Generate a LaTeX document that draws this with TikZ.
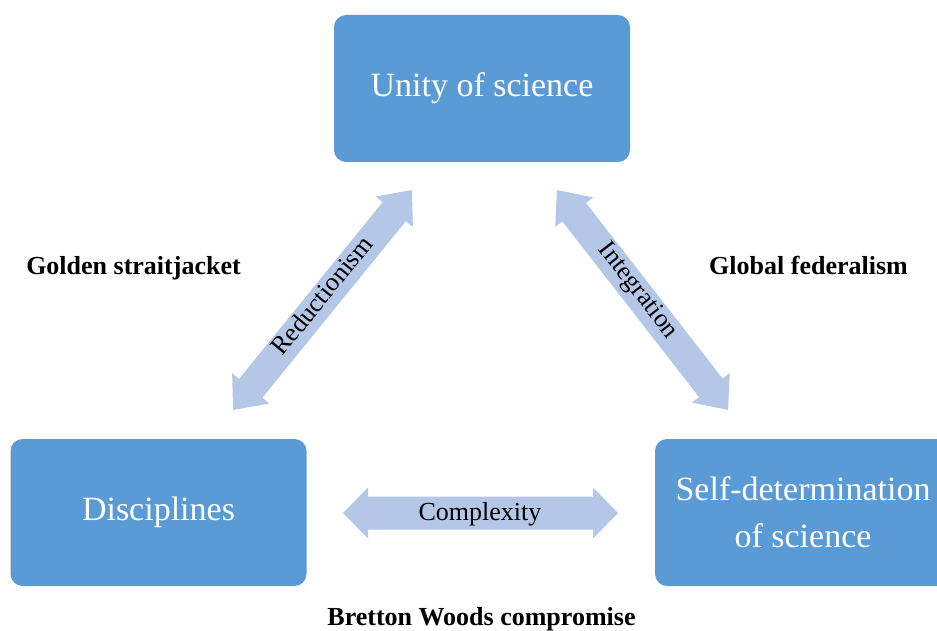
\documentclass[tikz,border=0pt]{standalone}
\usepackage{fontspec}
\setmainfont{Liberation Serif}
\definecolor{boxblue}{HTML}{5B9BD5}
\definecolor{arrblue}{HTML}{B4C7E7}
\tikzset{
  bluebox/.style={fill=boxblue, rounded corners=12pt, minimum width=296pt, minimum height=147pt,
    text=white, font=\fontsize{34}{47}\selectfont, align=center, inner sep=0pt},
  arrowlabel/.style={font=\fontsize{26}{30}\selectfont, inner sep=0pt},
  sidelabel/.style={font=\bfseries\fontsize{26}{30}\selectfont, inner sep=0pt, anchor=base},
  arrowfill/.style={fill=arrblue}
}
% cx cy angle halflen shafthalf headhalf headlen
\newcommand\dblarrow[7]{%
  \begin{scope}[shift={(#1,#2)},rotate=#3]
    \fill[arrowfill] (-#4,0) -- (-#4+#7,#6) -- (-#4+#7,#5) -- (#4-#7,#5) -- (#4-#7,#6) -- (#4,0)
      -- (#4-#7,-#6) -- (#4-#7,-#5) -- (-#4+#7,-#5) -- (-#4+#7,-#6) -- cycle;
  \end{scope}}
\begin{document}
\begin{tikzpicture}[x=1pt,y=1pt]
  \useasboundingbox (0,0) rectangle (937,-631);
  \clip (0,0) rectangle (937,-631);
  % boxes
  \node[bluebox] (unity) at (482,-88.5) {Unity of science};
  \node[bluebox] (disc) at (158.5,-512.5) {Disciplines};
  \node[bluebox] (self) at (803,-512.5) {Self-determination\\of science};
  % block arrows
  \dblarrow{322.5}{-300}{50.9}{141.8}{15}{24}{28}
  \dblarrow{642.5}{-300}{127.9}{139.3}{15}{24}{28}
  \dblarrow{480.5}{-513}{0}{137.5}{16.5}{25.5}{25}
  % arrow labels
  \node[arrowlabel, rotate=50.9] (red) at (321.5,-295) {Reductionism};
  \node[arrowlabel, rotate=-52.1] (integ) at (637.5,-291) {Integration};
  \node[arrowlabel, anchor=base] (compl) at (480,-520.7) {Complexity};
  % side labels
  \node[sidelabel] (golden) at (133.5,-274) {Golden straitjacket};
  \node[sidelabel] (global) at (808.5,-274) {Global federalism};
  \node[sidelabel] (bretton) at (481.5,-625) {Bretton Woods compromise};
\end{tikzpicture}
\end{document}
